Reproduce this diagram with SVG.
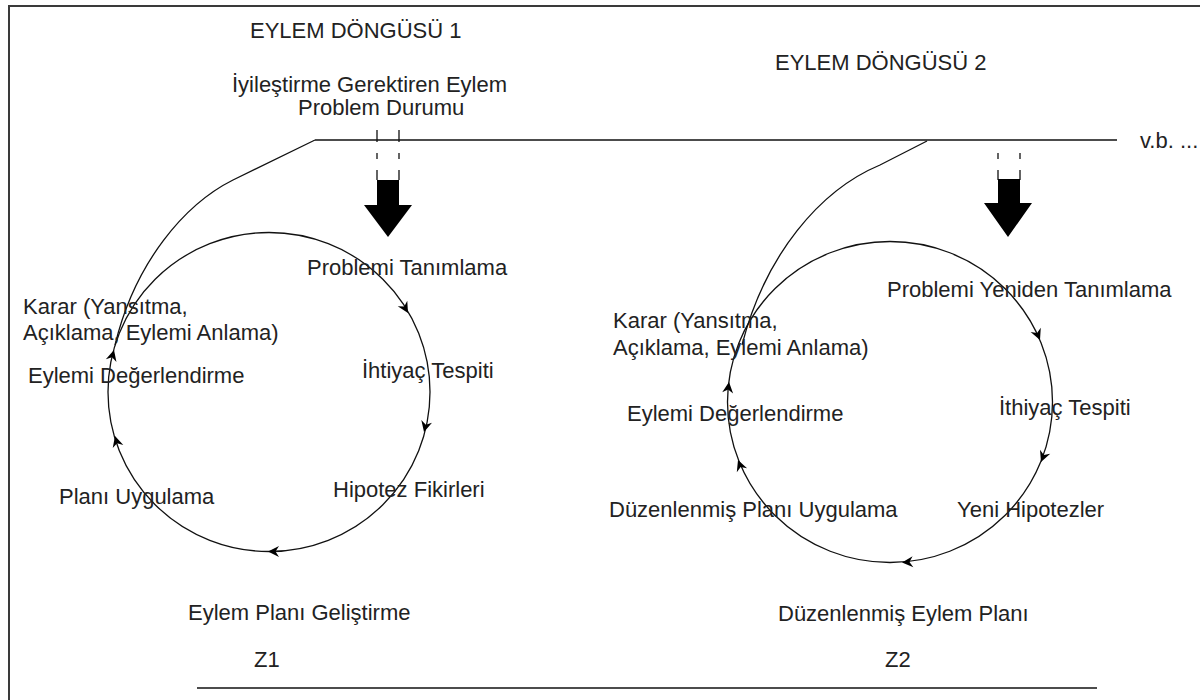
<svg xmlns="http://www.w3.org/2000/svg" width="1200" height="700" viewBox="0 0 1200 700">
  <style>
    .t { font-family: "Liberation Sans", Arial, sans-serif; font-size: 22px; fill: #222; }
    .ln { fill: none; stroke: #111; stroke-width: 1.3; }
    .frame { fill: none; stroke: #3a3a3a; stroke-width: 2; }
    .big { fill: #000; }
    .head { fill: #000; }
  </style>
  <defs>
    <!-- small stealth head pointing along +x, tip at origin -->
    <polygon id="h" class="head" points="0,0 -11,-5.5 -7.5,0 -11,5.5"/>
  </defs>

  <rect width="1200" height="700" fill="#fff"/>

  <!-- page frame -->
  <path class="frame" d="M9,700 V6 H1200"/>

  <!-- headings -->
  <g id="cycle1-title"><text class="t" x="250" y="38">EYLEM DÖNGÜSÜ 1</text></g>
  <g id="cycle2-title"><text class="t" x="775" y="70">EYLEM DÖNGÜSÜ 2</text></g>
  <g id="problem"><text class="t" x="232" y="92">İyileştirme Gerektiren Eylem</text><text class="t" x="298" y="115">Problem Durumu</text></g>
  <g id="etc"><text class="t" x="1140" y="148">v.b. ...</text></g>

  <g id="connectors">
    <!-- time line -->
    <line class="ln" x1="315" y1="140" x2="1117" y2="140"/>
    <line class="ln" x1="197" y1="688" x2="1097" y2="688"/>

    <!-- cycle 1 -->
    <ellipse class="ln" cx="269" cy="392" rx="161" ry="159.5"/>
    <path class="ln" d="M315,140 L233,180 C185,204 135,262 115,345"/>
    <!-- cycle 2 -->
    <ellipse class="ln" cx="890" cy="402" rx="162.5" ry="160.5"/>
    <path class="ln" d="M927,141 L880,165 C820,190 765,255 742,345"/>

    <!-- dashed feeds into block arrows -->
    <path class="ln" d="M377,130 V142 M377,153 V159 M377,170 V180 M399,130 V142 M399,153 V159 M399,170 V180"/>
    <path class="ln" d="M998,153 V159 M998,170 V180 M1020,153 V159 M1020,170 V180"/>
    <polygon class="big" points="377,180 399,180 399,205 412,205 388,237 364,205 377,205"/>
    <polygon class="big" points="998,179 1020,179 1020,203 1032,203 1008,237 984,203 998,203"/>

    <!-- cycle 1 direction heads -->
    <use href="#h" transform="translate(408,313) rotate(60)"/>
    <use href="#h" transform="translate(424,432) rotate(104)"/>
    <use href="#h" transform="translate(268,551.5) rotate(180)"/>
    <use href="#h" transform="translate(115,436) rotate(254)"/>
    <use href="#h" transform="translate(114,350) rotate(285)"/>

    <!-- cycle 2 direction heads -->
    <use href="#h" transform="translate(1040,340) rotate(67)"/>
    <use href="#h" transform="translate(1041,462) rotate(112)"/>
    <use href="#h" transform="translate(902,562.5) rotate(176)"/>
    <use href="#h" transform="translate(738,460) rotate(249)"/>
    <use href="#h" transform="translate(729,382) rotate(277)"/>
  </g>

  <!-- cycle 1 steps -->
  <g id="c1-define"><text class="t" x="307" y="275">Problemi Tanımlama</text></g>
  <g id="c1-need"><text class="t" x="362" y="378">İhtiyaç Tespiti</text></g>
  <g id="c1-hypo"><text class="t" x="333" y="497">Hipotez Fikirleri</text></g>
  <g id="c1-plan"><text class="t" x="188" y="620">Eylem Planı Geliştirme</text></g>
  <g id="c1-apply"><text class="t" x="59" y="504">Planı Uygulama</text></g>
  <g id="c1-eval"><text class="t" x="28" y="383">Eylemi Değerlendirme</text></g>
  <g id="c1-decide"><text class="t" x="23" y="314">Karar (Yansıtma,</text><text class="t" x="23" y="340">Açıklama, Eylemi Anlama)</text></g>
  <g id="z1"><text class="t" x="254" y="667">Z1</text></g>

  <!-- cycle 2 steps -->
  <g id="c2-define"><text class="t" x="887" y="297">Problemi Yeniden Tanımlama</text></g>
  <g id="c2-need"><text class="t" x="999" y="415">İthiyaç Tespiti</text></g>
  <g id="c2-hypo"><text class="t" x="957" y="517">Yeni Hipotezler</text></g>
  <g id="c2-plan"><text class="t" x="778" y="621">Düzenlenmiş Eylem Planı</text></g>
  <g id="c2-apply"><text class="t" x="609" y="517">Düzenlenmiş Planı Uygulama</text></g>
  <g id="c2-eval"><text class="t" x="627" y="421">Eylemi Değerlendirme</text></g>
  <g id="c2-decide"><text class="t" x="613" y="328">Karar (Yansıtma,</text><text class="t" x="613" y="355">Açıklama, Eylemi Anlama)</text></g>
  <g id="z2"><text class="t" x="885" y="667">Z2</text></g>
</svg>
